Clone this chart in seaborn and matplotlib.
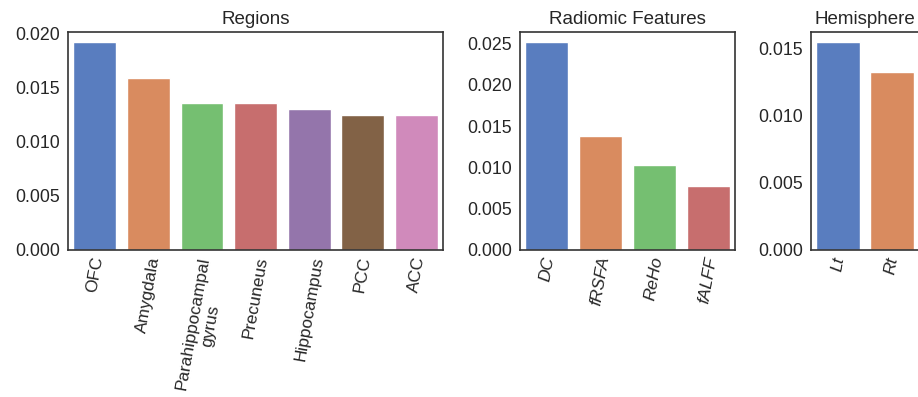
import matplotlib
matplotlib.use("Agg")
import matplotlib.pyplot as plt
import seaborn as sns
import pandas as pd

regions = ["OFC", "Amygdala", "Parahippocampal\ngyrus", "Precuneus", "Hippocampus", "PCC", "ACC"]
region_vals = [0.0192, 0.0159, 0.0136, 0.0136, 0.0130, 0.01247, 0.01245]

features = ["DC", "fRSFA", "ReHo", "fALFF"]
feature_vals = [0.02516, 0.01382, 0.01033, 0.00772]

hemis = ["Lt", "Rt"]
hemi_vals = [0.01542, 0.01321]

sns.set_theme(style="white", font_scale=1.0)
plt.rcParams["font.family"] = ["Liberation Sans", "DejaVu Sans"]
plt.rcParams["font.size"] = 12
plt.rcParams["axes.edgecolor"] = "#333333"

fig = plt.figure(figsize=(9.18, 3.97), dpi=100)
W, H = 918, 397
def pos(l, r, t=32, b=250):
    return [l / W, 1 - b / H, (r - l) / W, (b - t) / H]

ax1 = fig.add_axes(pos(68, 443))
ax2 = fig.add_axes(pos(520, 735))
ax3 = fig.add_axes(pos(811, 919))

panels = [
    (ax1, regions, region_vals, "Regions", False),
    (ax2, features, feature_vals, "Radiomic Features", True),
    (ax3, hemis, hemi_vals, "Hemisphere", True),
]
for ax, cats, vals, title, italic in panels:
    df = pd.DataFrame({"cat": cats, "val": vals})
    sns.barplot(data=df, x="cat", y="val", hue="cat", palette="muted",
                legend=False, ax=ax, saturation=0.75)
    ax.set_title(title, fontsize=13.5, pad=6)
    ax.set_xlabel("")
    ax.set_ylabel("")
    ax.tick_params(axis="y", labelsize=12.8, length=0, pad=6)
    ax.tick_params(axis="x", labelsize=12.4, length=0, pad=4)
    for lab in ax.get_xticklabels():
        lab.set_rotation(80)
        lab.set_style("italic" if italic else "normal")
    for sp in ax.spines.values():
        sp.set_visible(True)
        sp.set_linewidth(1.2)
        sp.set_color("#333333")

fig.savefig("out.png", dpi=100)
